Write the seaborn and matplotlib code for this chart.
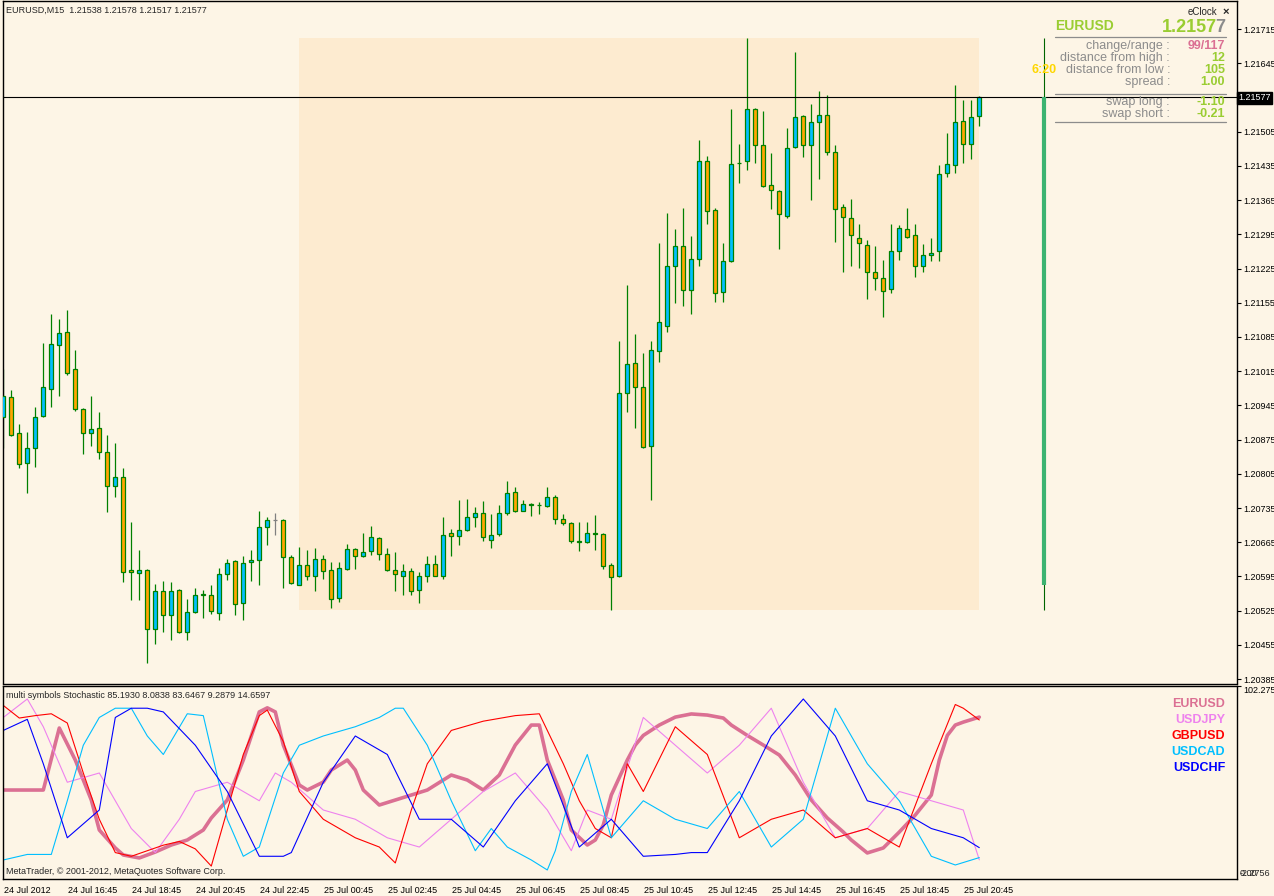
import numpy as np
import pandas as pd
import seaborn as sns
import matplotlib.pyplot as plt
from matplotlib.transforms import ScaledTranslation

# EURUSD M15 bars, 24 Jul 2012 14:45 .. 25 Jul 2012 21:15
open_ = [1.20921, 1.20962, 1.20888, 1.20827, 1.20857, 1.20923, 1.20978, 1.21068, 1.21095, 1.21019,
         1.20937, 1.20888, 1.20898, 1.20849, 1.20780, 1.20798, 1.20608, 1.20602, 1.20608, 1.20487,
         1.20565, 1.20516, 1.20567, 1.20481, 1.20522, 1.20557, 1.20557, 1.20520, 1.20600, 1.20626,
         1.20540, 1.20624, 1.20628, 1.20696, 1.20710, 1.20710, 1.20634, 1.20578, 1.20618, 1.20595,
         1.20630, 1.20608, 1.20550, 1.20610, 1.20651, 1.20636, 1.20647, 1.20673, 1.20642, 1.20608,
         1.20595, 1.20606, 1.20567, 1.20597, 1.20620, 1.20595, 1.20683, 1.20677, 1.20690, 1.20716,
         1.20724, 1.20669, 1.20681, 1.20724, 1.20767, 1.20730, 1.20742, 1.20741, 1.20739, 1.20757,
         1.20712, 1.20704, 1.20668, 1.20665, 1.20685, 1.20681, 1.20618, 1.20595, 1.20970, 1.21032,
         1.20982, 1.20863, 1.21057, 1.21108, 1.21231, 1.21271, 1.21181, 1.21244, 1.21445, 1.21344,
         1.21177, 1.21240, 1.21441, 1.21445, 1.21551, 1.21477, 1.21395, 1.21383, 1.21332, 1.21473,
         1.21537, 1.21477, 1.21524, 1.21539, 1.21463, 1.21350, 1.21328, 1.21287, 1.21273, 1.21217,
         1.21205, 1.21183, 1.21260, 1.21305, 1.21293, 1.21230, 1.21252, 1.21260, 1.21420, 1.21436,
         1.21526, 1.21479, 1.21538]
high = [1.21019, 1.20977, 1.20907, 1.20891, 1.20942, 1.21073, 1.21132, 1.21122, 1.21140, 1.21058,
        1.20939, 1.20964, 1.20931, 1.20884, 1.20868, 1.20816, 1.20706, 1.20649, 1.20610, 1.20579,
        1.20585, 1.20583, 1.20569, 1.20548, 1.20571, 1.20567, 1.20577, 1.20612, 1.20630, 1.20628,
        1.20636, 1.20649, 1.20728, 1.20716, 1.20724, 1.20712, 1.20638, 1.20655, 1.20649, 1.20653,
        1.20639, 1.20624, 1.20624, 1.20661, 1.20653, 1.20683, 1.20698, 1.20675, 1.20653, 1.20645,
        1.20620, 1.20612, 1.20604, 1.20636, 1.20638, 1.20716, 1.20692, 1.20751, 1.20753, 1.20737,
        1.20749, 1.20722, 1.20741, 1.20790, 1.20778, 1.20751, 1.20745, 1.20747, 1.20778, 1.20761,
        1.20722, 1.20706, 1.20706, 1.20706, 1.20720, 1.20683, 1.20622, 1.21077, 1.21191, 1.21091,
        1.21053, 1.21076, 1.21278, 1.21338, 1.21306, 1.21349, 1.21292, 1.21488, 1.21455, 1.21349,
        1.21278, 1.21551, 1.21480, 1.21697, 1.21553, 1.21548, 1.21461, 1.21385, 1.21513, 1.21669,
        1.21539, 1.21561, 1.21588, 1.21580, 1.21477, 1.21357, 1.21367, 1.21316, 1.21283, 1.21271,
        1.21242, 1.21316, 1.21314, 1.21348, 1.21316, 1.21275, 1.21287, 1.21436, 1.21502, 1.21600,
        1.21569, 1.21569, 1.21578]
low = [1.20857, 1.20882, 1.20816, 1.20766, 1.20820, 1.20921, 1.20942, 1.20965, 1.21007, 1.20933,
       1.20846, 1.20863, 1.20836, 1.20726, 1.20758, 1.20584, 1.20546, 1.20546, 1.20417, 1.20456,
       1.20482, 1.20466, 1.20479, 1.20466, 1.20520, 1.20510, 1.20518, 1.20507, 1.20587, 1.20516,
       1.20507, 1.20585, 1.20577, 1.20659, 1.20679, 1.20571, 1.20579, 1.20578, 1.20587, 1.20566,
       1.20589, 1.20530, 1.20542, 1.20608, 1.20610, 1.20634, 1.20638, 1.20628, 1.20606, 1.20565,
       1.20557, 1.20557, 1.20540, 1.20583, 1.20595, 1.20589, 1.20636, 1.20659, 1.20688, 1.20696,
       1.20667, 1.20653, 1.20677, 1.20720, 1.20726, 1.20728, 1.20718, 1.20722, 1.20737, 1.20702,
       1.20700, 1.20663, 1.20647, 1.20663, 1.20649, 1.20610, 1.20527, 1.20593, 1.20932, 1.20899,
       1.20857, 1.20751, 1.21033, 1.21096, 1.21154, 1.21149, 1.21133, 1.21231, 1.21316, 1.21157,
       1.21157, 1.21238, 1.21401, 1.21427, 1.21442, 1.21391, 1.21346, 1.21266, 1.21329, 1.21471,
       1.21453, 1.21366, 1.21409, 1.21457, 1.21279, 1.21219, 1.21230, 1.21226, 1.21162, 1.21181,
       1.21125, 1.21174, 1.21242, 1.21287, 1.21207, 1.21217, 1.21240, 1.21240, 1.21412, 1.21420,
       1.21442, 1.21449, 1.21517]
close = [1.20965, 1.20884, 1.20825, 1.20857, 1.20921, 1.20982, 1.21070, 1.21093, 1.21011, 1.20937,
         1.20888, 1.20896, 1.20849, 1.20780, 1.20798, 1.20604, 1.20604, 1.20608, 1.20487, 1.20565,
         1.20516, 1.20565, 1.20481, 1.20522, 1.20557, 1.20559, 1.20524, 1.20600, 1.20622, 1.20538,
         1.20622, 1.20628, 1.20696, 1.20710, 1.20710, 1.20634, 1.20581, 1.20618, 1.20595, 1.20630,
         1.20606, 1.20548, 1.20612, 1.20651, 1.20636, 1.20645, 1.20675, 1.20642, 1.20608, 1.20600,
         1.20606, 1.20565, 1.20595, 1.20620, 1.20597, 1.20679, 1.20677, 1.20690, 1.20716, 1.20724,
         1.20675, 1.20679, 1.20724, 1.20765, 1.20730, 1.20743, 1.20743, 1.20742, 1.20757, 1.20712,
         1.20704, 1.20667, 1.20665, 1.20685, 1.20681, 1.20616, 1.20593, 1.20970, 1.21030, 1.20982,
         1.20860, 1.21058, 1.21115, 1.21231, 1.21271, 1.21181, 1.21244, 1.21445, 1.21342, 1.21174,
         1.21240, 1.21438, 1.21442, 1.21551, 1.21477, 1.21393, 1.21385, 1.21336, 1.21471, 1.21535,
         1.21477, 1.21524, 1.21539, 1.21463, 1.21346, 1.21330, 1.21293, 1.21277, 1.21219, 1.21205,
         1.21179, 1.21260, 1.21307, 1.21289, 1.21230, 1.21252, 1.21256, 1.21418, 1.21438, 1.21524,
         1.21479, 1.21535, 1.21577]
grey_bars = [34]

day_start = 37
day_open = 1.20578
day_high = 1.21697
day_low = 1.20527
last_price = 1.21577

price_ticks = [1.20385, 1.20455, 1.20525, 1.20595, 1.20665, 1.20735, 1.20805, 1.20875, 1.20945, 1.21015,
               1.21085, 1.21155, 1.21225, 1.21295, 1.21365, 1.21435, 1.21505, 1.21645, 1.21715]
time_ticks = [0, 8, 16, 24, 32, 40, 48, 56, 64, 72, 80, 88, 96, 104, 112, 120]
time_labels = ["24 Jul 2012", "24 Jul 16:45", "24 Jul 18:45", "24 Jul 20:45", "24 Jul 22:45",
               "25 Jul 00:45", "25 Jul 02:45", "25 Jul 04:45", "25 Jul 06:45", "25 Jul 08:45",
               "25 Jul 10:45", "25 Jul 12:45", "25 Jul 14:45", "25 Jul 16:45", "25 Jul 18:45",
               "25 Jul 20:45"]

# multi symbols stochastic (bar index, value)
eur_idx = [0, 5, 7, 9, 11, 12, 14, 15, 17, 19, 21, 23, 25, 26, 28, 30, 32, 33, 34, 35,
           37, 38, 40, 41, 43, 44, 45, 47, 49, 51, 53, 55, 56, 58, 60, 62, 64, 66, 67, 68,
           70, 71, 73, 74, 75, 76, 78, 79, 80, 82, 84, 86, 88, 90, 91, 93, 95, 97, 99, 101,
           103, 105, 106, 108, 110, 112, 114, 116, 117, 118, 119, 120, 122]
eurusd = [45.8, 45.8, 79.3, 62, 40.4, 24.2, 14.5, 10.7, 9.1, 12.3, 16.1, 18.8, 24.2, 30.7, 40.4, 62, 88, 90.2, 88, 70.1,
          48.5, 45.8, 50.1, 56.6, 62, 56.6, 45.8, 37.7, 40.4, 43.1, 45.8, 51.2, 53.9, 51.2, 45.8, 53.9, 70.1, 80.9, 80.9, 62,
          40.4, 24.2, 16.1, 18.8, 26.9, 43.1, 62, 70.1, 75.3, 80.9, 85.2, 86.9, 86.3, 84.7, 80.9, 75.3, 70.1, 64.7, 53.9, 40.4,
          30.7, 23.1, 18.8, 11.8, 14.5, 23.1, 32.3, 43.1, 62, 75.3, 80.9, 82.5, 85.19]

jpy_idx = [0, 3, 5, 8, 12, 16, 19, 22, 24, 28, 32, 34, 36, 40, 44, 48, 52, 56, 60, 64,
           68, 71, 73, 76, 80, 84, 88, 92, 96, 100, 104, 108, 112, 116, 120, 122]
usdjpy = [85, 95, 80, 50, 55, 25, 12, 30, 45, 50, 40, 55, 50, 35, 30, 20, 15, 30, 45, 55,
          35, 13, 35, 30, 85, 70, 55, 70, 90, 50, 20, 25, 45, 40, 35, 8.08]

gbp_idx = [0, 2, 4, 6, 8, 10, 12, 14, 16, 18, 20, 22, 24, 26, 28, 30, 32, 33, 35, 37,
           40, 44, 47, 49, 51, 53, 56, 60, 64, 67, 70, 72, 74, 76, 78, 80, 84, 88, 92, 96,
           100, 104, 108, 112, 116, 119, 120, 122]
gbpusd = [91.5, 84.7, 86, 87, 82, 55, 30, 12, 10, 13, 16, 18, 14, 4.7, 35, 65, 86, 89, 72, 45,
          30, 20, 15, 6.4, 35, 60, 78, 83, 86, 87, 60, 40, 25, 20, 60, 45, 80, 65, 20, 30,
          35, 20, 25, 15, 60, 92, 90, 83.65]

cad_idx = [0, 3, 6, 8, 10, 12, 14, 16, 18, 20, 23, 25, 28, 30, 32, 35, 37, 40, 44, 47,
           49, 50, 53, 56, 59, 61, 63, 66, 68, 69, 71, 73, 76, 80, 84, 88, 92, 96, 100, 104,
           108, 112, 116, 119, 122]
usdcad = [8, 11, 11, 40, 70, 85, 90, 90, 75, 65, 87, 86, 30, 10, 15, 55, 70, 75, 80, 85,
          90, 90, 70, 40, 13, 25, 15, 8, 2.6, 13, 45, 65, 20, 40, 30, 25, 45, 15, 30, 90,
          60, 40, 10, 5.3, 9.29]

chf_idx = [0, 3, 5, 8, 12, 14, 16, 18, 20, 24, 28, 32, 35, 36, 40, 44, 48, 52, 56, 60,
           64, 68, 72, 76, 80, 84, 86, 88, 92, 96, 100, 104, 108, 112, 116, 120, 122]
usdchf = [78, 84, 60, 20, 35, 85, 90, 90, 88, 70, 45, 10, 10, 12, 50, 75, 65, 30, 30, 15,
          40, 60, 15, 30, 10, 11, 12, 12, 40, 75, 95, 75, 40, 35, 25, 20, 14.66]

symbols = ["EURUSD", "USDJPY", "GBPUSD", "USDCAD", "USDCHF"]
sym_colors = ["#DB7093", "#EE82EE", "#FF0000", "#00BFFF", "#0000FF"]
sym_widths = [2.6, 0.8, 0.8, 0.8, 0.8]

BG = "#FDF5E6"
W, H = 1274, 896

sns.set_style("white", {"axes.facecolor": BG, "figure.facecolor": BG})
plt.rcParams["font.family"] = ["Liberation Sans", "DejaVu Sans"]

fig = plt.figure(figsize=(W / 100, H / 100), dpi=100)
fig.patch.set_facecolor(BG)


def frac(x0, y0, x1, y1):
    return [x0 / W, 1 - y1 / H, (x1 - x0) / W, (y1 - y0) / H]


ax = fig.add_axes(frac(2.5, 0.7, 1236.5, 683.5))
ax2 = fig.add_axes(frac(2.5, 685.5, 1236.5, 879))

xmin, xmax = (2.5 - 3.3) / 8, (1236.5 - 3.3) / 8

df = pd.DataFrame({"o": open_, "h": high, "l": low, "c": close})
df["x"] = np.arange(len(df))
edge = ["#808080" if i in grey_bars else "#008000" for i in df["x"]]
fill = np.where(df["c"] > df["o"], "#00BFFF", np.where(df["c"] < df["o"], "#FFA500", "#008000"))

# day range box
ax.fill_between([day_start, df["x"].iloc[-1]], day_low, day_high, color="#FDEBD0", lw=0, zorder=0)

ax.vlines(df["x"], df["l"], df["h"], colors=edge, lw=0.9, zorder=2)
ax.bar(df["x"], np.maximum((df["c"] - df["o"]).abs(), 0.000004), bottom=np.minimum(df["o"], df["c"]),
       width=0.5, color=fill, edgecolor=edge, linewidth=0.9, zorder=3)

ax.axhline(last_price, color="black", lw=0.8, zorder=4)

# eClock range bar
rx = 130.1
ax.vlines(rx, day_low, day_high, colors="#006400", lw=0.8, zorder=4)
ax.vlines(rx, day_open, last_price, colors="#3CB371", lw=3.0, zorder=5)

ax.set_xlim(xmin, xmax)
ax.set_ylim(1.217745 - 2.046e-5 * 683.5, 1.217745 - 2.046e-5 * 0.7)
ax.set_xticks([])
ax.yaxis.tick_right()
ax.set_yticks(price_ticks)
ax.set_yticklabels([f"{p:.5f}" for p in price_ticks])
ax.tick_params(axis="y", direction="out", length=3, width=0.8, labelsize=6.5, pad=2, colors="black")
for s in ax.spines.values():
    s.set_color("black")
    s.set_linewidth(1)

# stochastic window
series = [(eur_idx, eurusd), (jpy_idx, usdjpy), (gbp_idx, gbpusd), (cad_idx, usdcad), (chf_idx, usdchf)]
for (ix, vals), col, lw in zip(series, sym_colors, sym_widths):
    sns.lineplot(x=ix, y=vals, color=col, lw=lw, ax=ax2, legend=False)
ax2.set_xlim(xmin, xmax)
ax2.set_ylim(-2.2755, 102.2755)
ax2.yaxis.tick_right()
ax2.set_yticks([102.2755])
ax2.set_yticklabels(["102.2755"], va="top")
ax2.set_xticks(time_ticks)
ax2.set_xticklabels(time_labels, ha="left")
ax2.tick_params(axis="both", direction="out", length=3, width=0.8, labelsize=6.5, pad=2, colors="black")
for lab in ax2.get_xticklabels():
    lab.set_transform(lab.get_transform() + ScaledTranslation(1 / 100, 0, fig.dpi_scale_trans))
for s in ax2.spines.values():
    s.set_color("black")
    s.set_linewidth(1)
ax2.set_xlabel("")
ax2.set_ylabel("")


def put(x, y, s, **kw):
    fig.text(x / W, 1 - y / H, s, va="center", **kw)


put(6, 10, "EURUSD,M15  1.21538 1.21578 1.21517 1.21577", fontsize=6.5)
put(6, 695, "multi symbols Stochastic 85.1930 8.0838 83.6467 9.2879 14.6597", fontsize=6.5)
put(6, 871, "MetaTrader, © 2001-2012, MetaQuotes Software Corp.", fontsize=6.5)
put(1240, 873, "-2.2756", fontsize=6.5)
put(1240, 873, "0.00", fontsize=6.5)

for k, (name, col) in enumerate(zip(symbols, sym_colors)):
    put(1225, 704 + 16 * k, name, ha="right", fontsize=9, fontweight="bold", color=col)

# current price marker
put(1238, 98, "1.21577", fontsize=6.5, color="white",
    bbox=dict(boxstyle="square,pad=0.15", fc="black", ec="black"))

# eClock panel
GREY = "#8C8C8C"
YG = "#9ACD32"
put(1217, 12, "eClock", ha="right", fontsize=7)
put(1226, 12, "×", ha="center", fontsize=8, fontweight="bold")
put(1055, 26, "EURUSD", fontsize=10, fontweight="bold", color=YG)
put(1217, 27, "1.2157", ha="right", fontsize=13, fontweight="bold", color=YG)
put(1225, 27, "7", ha="right", fontsize=13, fontweight="bold", color=GREY)
rows = [("change/range :", "99/117", "#DB7093", 46), ("distance from high :", "12", YG, 58),
        ("distance from low :", "105", YG, 70), ("spread :", "1.00", YG, 82),
        ("swap long :", "-1.10", YG, 102), ("swap short :", "-0.21", YG, 114)]
for lab, val, col, yy in rows:
    put(1170, yy, lab, ha="right", fontsize=9, color=GREY)
    put(1225, yy, val, ha="right", fontsize=9, fontweight="bold", color=col)
put(1032, 70, "6:20", fontsize=9, fontweight="bold", color="#FFD700")
for yy in (37, 94.5, 122.5):
    fig.add_artist(plt.Line2D([1055 / W, 1226 / W], [1 - yy / H] * 2, color=GREY, lw=0.9))

fig.savefig("out.png", dpi=100, facecolor=BG)
